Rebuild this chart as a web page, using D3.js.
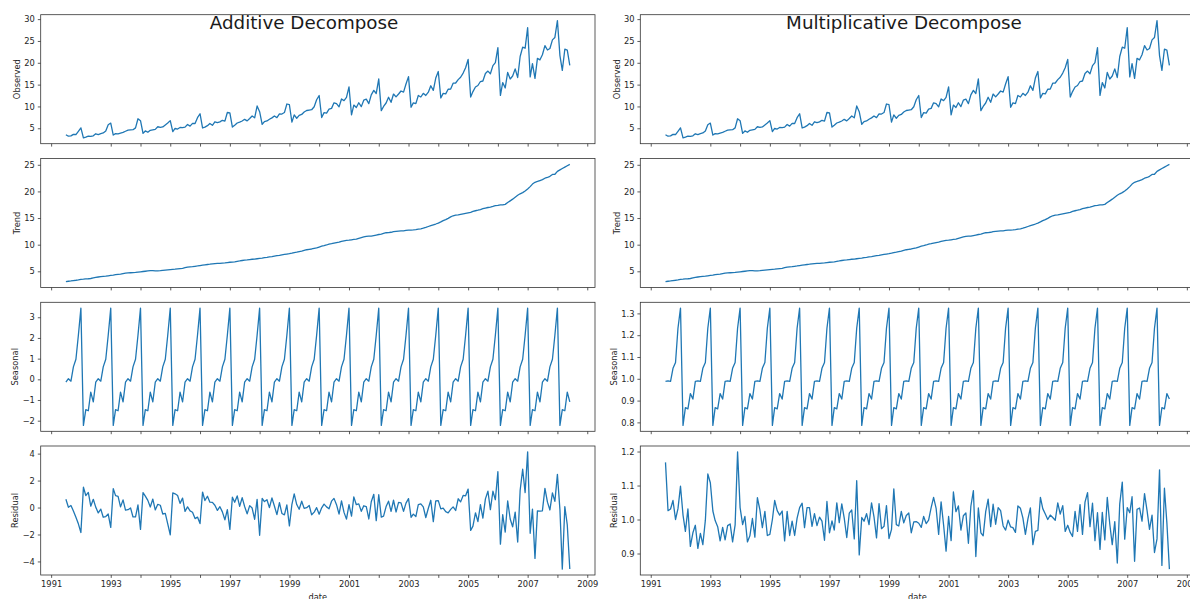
<!DOCTYPE html>
<html>
<head>
<meta charset="utf-8">
<title>Additive / Multiplicative Decompose</title>
<script src="https://d3js.org/d3.v7.min.js"></script>
<style>
body { margin: 0; background: #ffffff; }
svg { display: block; font-family: 'DejaVu Sans', sans-serif; }
.tick text { fill: #262626; }
.tick line { stroke: #333333; stroke-width: 0.8; }
.spine { fill: none; stroke: #333333; stroke-width: 0.8; }
.series { fill: none; stroke: #1f77b4; stroke-width: 1.3; stroke-linejoin: round; }
</style>
</head>
<body>
<script>
'use strict'

// monthly series, first value is July 1991
const firstMonth = new Date(1991, 6, 1)

const observed = [
  3.53, 3.18, 3.25, 3.61, 3.57, 4.31,
  5.09, 2.81, 2.99, 3.20, 3.13, 3.27, 3.74, 3.56, 3.78, 3.92, 4.39, 5.81,
  6.19, 3.45, 3.77, 3.73, 3.91, 4.05, 4.32, 4.56, 4.61, 4.67, 5.09, 7.18,
  6.73, 3.84, 4.39, 4.08, 4.54, 4.65, 4.75, 5.35, 5.20, 5.30, 5.77, 6.20,
  6.75, 4.22, 4.95, 4.82, 5.19, 5.17, 5.26, 5.86, 5.49, 6.12, 6.09, 7.42,
  8.33, 5.07, 5.26, 5.60, 6.11, 5.69, 6.49, 6.30, 6.47, 6.83, 6.65, 8.61,
  8.52, 5.28, 5.71, 6.21, 6.41, 6.67, 7.05, 6.70, 7.25, 7.82, 7.40, 10.10,
  8.80, 5.92, 6.53, 6.68, 7.06, 7.38, 7.81, 7.43, 8.28, 8.26, 8.60, 10.56,
  10.39, 6.42, 8.06, 7.30, 7.94, 8.17, 8.72, 9.07, 9.18, 9.25, 9.93, 11.53,
  12.51, 7.46, 8.59, 8.47, 9.39, 9.56, 10.83, 10.64, 9.91, 11.71, 11.34, 12.08,
  14.50, 8.05, 10.31, 9.75, 10.85, 9.96, 11.44, 11.66, 10.65, 12.65, 13.67, 12.97,
  16.30, 9.05, 10.00, 10.79, 12.11, 10.95, 12.84, 12.20, 12.85, 13.54, 13.29, 15.13,
  16.83, 9.80, 10.82, 10.65, 12.51, 12.16, 13.00, 12.52, 13.27, 14.73, 13.67, 16.50,
  18.00, 11.94, 13.00, 12.88, 13.94, 13.99, 15.34, 15.37, 16.14, 16.69, 17.64, 18.87,
  20.78, 12.15, 13.40, 14.46, 14.80, 15.71, 15.83, 17.55, 18.10, 17.50, 19.35, 20.03,
  23.49, 12.54, 15.47, 14.23, 17.78, 16.29, 16.98, 18.61, 16.62, 21.43, 23.58, 23.33,
  28.04, 16.76, 19.79, 16.43, 21.00, 20.68, 21.83, 23.93, 22.93, 23.26, 25.25, 25.81,
  29.67, 21.65, 18.26, 23.11, 22.91, 19.43
]

const trend = [
  3.06, 3.13, 3.19, 3.26, 3.32, 3.39,
  3.50, 3.53, 3.57, 3.60, 3.65, 3.75, 3.85, 3.93, 3.99, 4.04, 4.09, 4.16,
  4.22, 4.28, 4.36, 4.42, 4.48, 4.57, 4.65, 4.69, 4.73, 4.77, 4.81, 4.86,
  4.91, 4.96, 5.01, 5.07, 5.12, 5.11, 5.07, 5.08, 5.12, 5.18, 5.24, 5.28,
  5.33, 5.37, 5.40, 5.45, 5.50, 5.56, 5.68, 5.78, 5.83, 5.87, 5.94, 6.00,
  6.08, 6.15, 6.21, 6.28, 6.33, 6.40, 6.46, 6.48, 6.50, 6.55, 6.59, 6.64,
  6.70, 6.74, 6.79, 6.87, 6.94, 7.03, 7.11, 7.14, 7.20, 7.26, 7.30, 7.36,
  7.42, 7.48, 7.56, 7.62, 7.69, 7.76, 7.84, 7.93, 8.01, 8.10, 8.17, 8.24,
  8.31, 8.41, 8.52, 8.60, 8.69, 8.79, 8.92, 9.05, 9.12, 9.19, 9.30, 9.41,
  9.56, 9.71, 9.81, 9.94, 10.10, 10.18, 10.29, 10.40, 10.49, 10.62, 10.73, 10.81,
  10.85, 10.92, 10.99, 11.06, 11.20, 11.33, 11.45, 11.56, 11.59, 11.62, 11.72, 11.81,
  11.91, 11.99, 12.11, 12.24, 12.26, 12.33, 12.44, 12.50, 12.56, 12.59, 12.60, 12.67,
  12.73, 12.75, 12.78, 12.84, 12.91, 12.98, 13.09, 13.23, 13.41, 13.59, 13.74, 13.88,
  14.05, 14.27, 14.51, 14.71, 14.95, 15.22, 15.43, 15.56, 15.58, 15.67, 15.77, 15.87,
  15.97, 16.08, 16.25, 16.37, 16.47, 16.59, 16.75, 16.88, 16.98, 17.06, 17.17, 17.32,
  17.39, 17.49, 17.47, 17.57, 17.91, 18.23, 18.55, 18.92, 19.27, 19.55, 19.77, 20.09,
  20.47, 20.90, 21.38, 21.72, 21.87, 22.04, 22.21, 22.48, 22.62, 22.84, 23.19, 23.22,
  23.77, 24.04, 24.30, 24.56, 24.82, 25.08
]

// seasonal factor by calendar month, Jan .. Dec
const seasonalAdd = [3.44, -2.23, -1.47, -1.52, -0.62, -1.09, -0.14, 0.03, -0.09, 0.60, 0.97, 2.13]
const seasonalMul = [1.324, 0.786, 0.868, 0.862, 0.932, 0.907, 0.988, 0.990, 0.988, 1.048, 1.075, 1.232]

const residAdd = [
  0.61, 0.02, 0.15, -0.25, -0.72, -1.21,
  -1.85, 1.51, 0.89, 1.12, 0.10, 0.61, 0.03, -0.40, -0.12, -0.72, -0.67, -0.48,
  -1.47, 1.40, 0.88, 0.83, 0.05, 0.57, -0.19, -0.16, -0.03, -0.70, -0.69, 0.19,
  -1.62, 1.11, 0.85, 0.53, 0.04, 0.63, -0.18, 0.24, 0.17, -0.48, -0.44, -1.21,
  -2.02, 1.08, 1.02, 0.89, 0.31, 0.70, -0.28, 0.05, -0.25, -0.35, -0.82, -0.71,
  -1.19, 1.15, 0.52, 0.84, 0.40, 0.38, 0.17, -0.21, 0.06, -0.32, -0.91, -0.16,
  -1.62, 0.77, 0.39, 0.86, 0.09, 0.73, 0.08, -0.47, 0.14, -0.04, -0.87, 0.61,
  -2.06, 0.67, 0.44, 0.58, -0.01, 0.71, 0.11, -0.53, 0.36, -0.44, -0.54, 0.19,
  -1.36, 0.24, 1.01, 0.22, -0.13, 0.47, -0.06, -0.01, 0.15, -0.54, -0.34, -0.01,
  -0.49, -0.02, 0.25, 0.05, -0.09, 0.47, 0.68, 0.21, -0.49, 0.49, -0.36, -0.86,
  0.21, -0.64, 0.79, 0.21, 0.27, -0.28, 0.13, 0.07, -0.85, 0.43, 0.98, -0.97,
  0.95, -0.71, -0.64, 0.07, 0.47, -0.29, 0.54, -0.33, 0.38, 0.35, -0.28, 0.33,
  0.66, -0.72, -0.49, -0.67, 0.22, 0.27, 0.05, -0.74, -0.05, 0.54, -1.04, 0.49,
  0.51, -0.10, -0.04, -0.31, -0.39, -0.14, 0.05, -0.22, 0.65, 0.42, 0.90, 0.87,
  1.37, -1.70, -1.38, -0.39, -1.05, 0.21, -0.78, 0.64, 1.21, -0.16, 1.21, 0.58,
  2.66, -2.72, -0.53, -1.82, 0.49, -0.85, -1.43, -0.34, -2.56, 1.28, 2.84, 1.11,
  4.13, -1.91, -0.12, -3.77, -0.25, -0.27, -0.24, 1.42, 0.40, -0.18, 1.09, 0.46,
  2.46, -0.16, -4.57, 0.07, -1.29, -4.56
]

const residMul = [
  1.168, 1.026, 1.031, 1.056, 1.000, 1.032,
  1.098, 1.013, 0.965, 1.031, 0.921, 0.961, 0.983, 0.915, 0.959, 0.926, 0.998, 1.134,
  1.108, 1.025, 0.997, 0.979, 0.937, 0.977, 0.940, 0.982, 0.987, 0.934, 0.984, 1.199,
  1.035, 0.985, 1.009, 0.934, 0.952, 1.003, 0.948, 1.064, 1.028, 0.976, 1.024, 0.953,
  0.956, 1.000, 1.056, 1.026, 1.013, 1.025, 0.937, 1.024, 0.953, 0.995, 0.953, 1.004,
  1.035, 1.048, 0.976, 1.035, 1.035, 0.980, 1.017, 0.982, 1.007, 0.995, 0.939, 1.053,
  0.961, 0.996, 0.969, 1.049, 0.991, 1.046, 1.004, 0.947, 1.019, 1.028, 0.943, 1.114,
  0.896, 1.006, 0.995, 1.017, 0.985, 1.049, 1.008, 0.946, 1.047, 0.973, 0.980, 1.041,
  0.944, 0.971, 1.090, 0.985, 0.981, 1.024, 0.990, 1.012, 1.019, 0.961, 0.993, 0.994,
  0.989, 0.977, 1.009, 0.988, 0.998, 1.035, 1.065, 1.033, 0.956, 1.052, 0.983, 0.907,
  1.009, 0.938, 1.081, 1.023, 1.040, 0.969, 1.011, 1.019, 0.930, 1.039, 1.085, 0.891,
  1.034, 0.961, 0.952, 1.023, 1.060, 0.979, 1.045, 0.986, 1.035, 1.026, 0.981, 0.969,
  0.998, 0.978, 0.976, 0.962, 1.040, 1.033, 1.005, 0.956, 1.002, 1.034, 0.926, 0.965,
  0.968, 1.065, 1.032, 1.016, 1.000, 1.013, 1.006, 0.998, 1.049, 1.016, 1.041, 0.965,
  0.983, 0.962, 0.950, 1.024, 0.965, 1.044, 0.956, 1.051, 1.079, 0.979, 1.048, 0.938,
  1.020, 0.912, 1.021, 0.940, 1.065, 0.986, 0.926, 0.994, 0.872, 1.046, 1.110, 0.942,
  1.035, 1.020, 1.067, 0.877, 1.030, 1.034, 0.995, 1.076, 1.026, 0.971, 1.013, 0.903,
  0.943, 1.146, 0.865, 1.092, 0.990, 0.854
]

// axis ticks
const yearTicks = [1991, 1993, 1994, 1995, 1996, 1997, 1998, 1999, 2000, 2001, 2002, 2003, 2004, 2005, 2006, 2007, 2008, 2009]
const yearLabels = [1991, 1993, 1995, 1997, 1999, 2001, 2003, 2005, 2007, 2009]
const observedTicks = [5, 10, 15, 20, 25, 30]
const trendTicks = [5, 10, 15, 20, 25]
const seasonalAddTicks = [-2, -1, 0, 1, 2, 3]
const residAddTicks = [-4, -2, 0, 2, 4]
const seasonalMulTicks = [0.8, 0.9, 1.0, 1.1, 1.2, 1.3]
const residMulTicks = [0.9, 1.0, 1.1, 1.2]

// layout
const W = 1190
const H = 599
const plotW = 554.3
const plotH = 129
const panelTops = [14.7, 158.5, 302.3, 446]
const fontSize = 8.3
const tickLen = 2.9

const dates = d3.timeMonth.range(firstMonth, d3.timeMonth.offset(firstMonth, observed.length))

const svg = d3.select('body').append('svg')
  .attr('width', W)
  .attr('height', H)

svg.append('rect')
  .attr('width', W)
  .attr('height', H)
  .attr('fill', '#ffffff')

const columns = [
  {
    title: 'Additive Decompose', left: 40.7, titleX: 304,
    panels: [
      {label: 'Observed', values: observed, ticks: observedTicks, fmt: d3.format('d')},
      {label: 'Trend', values: trend, ticks: trendTicks, fmt: d3.format('d')},
      {label: 'Seasonal', values: dates.map(d => seasonalAdd[d.getMonth()]), ticks: seasonalAddTicks, fmt: d3.format('d')},
      {label: 'Residual', values: residAdd, ticks: residAddTicks, fmt: d3.format('d')}
    ]
  },
  {
    title: 'Multiplicative Decompose', left: 640.3, titleX: 904,
    panels: [
      {label: 'Observed', values: observed, ticks: observedTicks, fmt: d3.format('d')},
      {label: 'Trend', values: trend, ticks: trendTicks, fmt: d3.format('d')},
      {label: 'Seasonal', values: dates.map(d => seasonalMul[d.getMonth()]), ticks: seasonalMulTicks, fmt: d3.format('.1f')},
      {label: 'Residual', values: residMul, ticks: residMulTicks, fmt: d3.format('.1f')}
    ]
  }
]

// matplotlib style 5% margins
function padded(extent) {
  const span = extent[1] - extent[0]
  return [extent[0] - span * 0.05, extent[1] + span * 0.05]
}

const tExtent = d3.extent(dates).map(d => d.getTime())
const tDomain = padded(tExtent).map(t => new Date(t))

columns.forEach(col => {
  const x = d3.scaleTime()
    .domain(tDomain)
    .range([col.left, col.left + plotW])

  col.panels.forEach((p, i) => {
    const top = panelTops[i]
    const y = d3.scaleLinear()
      .domain(padded(d3.extent(p.values)))
      .range([top + plotH, top])

    const g = svg.append('g')

    const line = d3.line()
      .x((d, j) => x(dates[j]))
      .y(d => y(d))

    g.append('path')
      .attr('class', 'series')
      .attr('d', line(p.values))

    // y axis
    const yAxis = g.append('g')
      .attr('transform', `translate(${col.left},0)`)
      .call(d3.axisLeft(y).tickValues(p.ticks).tickFormat(p.fmt).tickSize(tickLen).tickPadding(2.9))
    yAxis.select('.domain').remove()
    yAxis.selectAll('text').attr('font-size', fontSize).attr('font-family', 'DejaVu Sans, sans-serif')

    // x axis
    const isBottom = i === col.panels.length - 1
    const xAxis = g.append('g')
      .attr('transform', `translate(0,${top + plotH})`)
      .call(d3.axisBottom(x)
        .tickValues(yearTicks.map(yr => new Date(yr, 0, 1)))
        .tickFormat(d => (isBottom && yearLabels.includes(d.getFullYear())) ? d.getFullYear() : '')
        .tickSize(tickLen)
        .tickPadding(3.6))
    xAxis.select('.domain').remove()
    xAxis.selectAll('text').attr('font-size', fontSize).attr('font-family', 'DejaVu Sans, sans-serif')

    // frame
    g.append('rect')
      .attr('class', 'spine')
      .attr('x', col.left)
      .attr('y', top)
      .attr('width', plotW)
      .attr('height', plotH)

    // y label placed next to the tick labels (bbox is local to the axis group)
    const bb = yAxis.node().getBBox()
    g.append('text')
      .attr('transform', `translate(${col.left + bb.x - 4.2},${top + plotH / 2}) rotate(-90)`)
      .attr('text-anchor', 'middle')
      .attr('font-size', fontSize)
      .attr('fill', '#262626')
      .text(p.label)
  })

  // x label of the bottom panel
  svg.append('text')
    .attr('x', col.left + plotW / 2)
    .attr('y', 600)
    .attr('text-anchor', 'middle')
    .attr('font-size', fontSize)
    .attr('fill', '#262626')
    .text('date')

  svg.append('text')
    .attr('x', col.titleX)
    .attr('y', 29.3)
    .attr('text-anchor', 'middle')
    .attr('font-size', 18.3)
    .attr('fill', '#1a1a1a')
    .text(col.title)
})
</script>
</body>
</html>
